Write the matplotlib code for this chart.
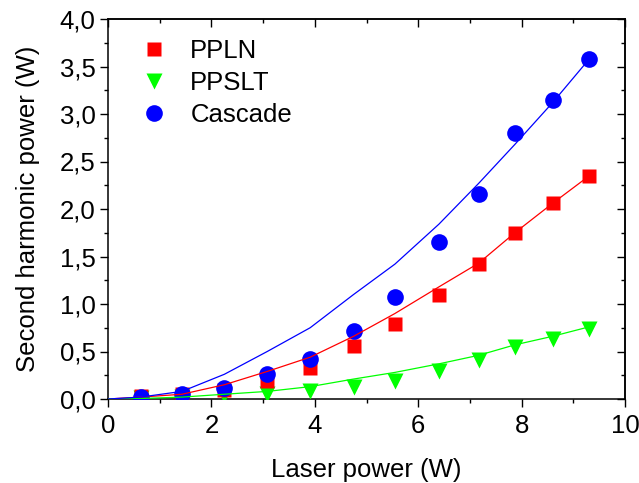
import matplotlib
matplotlib.use("Agg")
import matplotlib.pyplot as plt
from matplotlib.ticker import FuncFormatter, MultipleLocator

plt.rcParams['font.family'] = ['Liberation Sans', 'DejaVu Sans']

# measured data
laser_power = [0.63, 1.43, 2.25, 3.08, 3.91, 4.75, 5.55, 6.40, 7.17, 7.87, 8.60, 9.31]
ppln = [0.03, 0.05, 0.09, 0.19, 0.33, 0.56, 0.79, 1.10, 1.42, 1.75, 2.06, 2.35]
ppslt = [0.01, 0.02, 0.04, 0.05, 0.08, 0.13, 0.19, 0.30, 0.41, 0.55, 0.63, 0.74]
cascade = [0.02, 0.05, 0.12, 0.26, 0.42, 0.72, 1.07, 1.65, 2.16, 2.80, 3.15, 3.58]

# fit curves
fit_x = [0.0, 0.63, 1.43, 2.25, 3.08, 3.91, 4.75, 5.55, 6.40, 7.17, 7.87, 8.60, 9.31]
fit_ppln = [0.0, 0.02, 0.05, 0.15, 0.29, 0.44, 0.66, 0.90, 1.18, 1.43, 1.75, 2.06, 2.35]
fit_ppslt = [0.0, 0.005, 0.02, 0.05, 0.08, 0.13, 0.21, 0.28, 0.37, 0.46, 0.57, 0.66, 0.76]
fit_cascade = [0.0, 0.02, 0.08, 0.26, 0.50, 0.75, 1.10, 1.42, 1.84, 2.27, 2.68, 3.12, 3.58]

labels = ["PPLN", "PPSLT", "Cascade"]
xlabel = "Laser power (W)"
ylabel = "Second harmonic power (W)"

FS = 18.5

fig = plt.figure(figsize=(6.39, 4.83), dpi=100)
ax = fig.add_axes([108/639, 84/483, 517/639, 380/483])

red, green, blue = '#FF0000', '#00FF00', '#0000FF'

ax.plot(fit_x, fit_ppln, color=red, lw=0.9, zorder=6)
ax.plot(fit_x, fit_ppslt, color=green, lw=0.9, zorder=6)
ax.plot(fit_x, fit_cascade, color=blue, lw=0.9, zorder=6)

ax.plot(laser_power, ppln, 's', color=red, ms=10, mec='none', label=labels[0], zorder=4)
ax.plot(laser_power, ppslt, 'v', color=green, ms=12, mec='none', label=labels[1], zorder=3)
ax.plot(laser_power, cascade, 'o', color=blue, ms=12, mec='none', label=labels[2], zorder=5)

ax.set_xlim(0, 10)
ax.set_ylim(0, 4)
ax.xaxis.set_major_locator(MultipleLocator(2))
ax.xaxis.set_minor_locator(MultipleLocator(1))
ax.yaxis.set_major_locator(MultipleLocator(0.5))
ax.yaxis.set_minor_locator(MultipleLocator(0.25))
ax.yaxis.set_major_formatter(FuncFormatter(lambda v, p: f"{v:.1f}".replace('.', ',')))
ax.xaxis.set_major_formatter(FuncFormatter(lambda v, p: f"{v:.0f}"))

ax.tick_params(which='major', direction='out', length=6, width=1, labelsize=FS, pad=3)
ax.tick_params(axis='x', which='major', pad=5)
ax.tick_params(which='minor', direction='out', length=3, width=1)
for s in ax.spines.values():
    s.set_linewidth(1.1)

secx = ax.secondary_xaxis('top')
secx.xaxis.set_major_locator(MultipleLocator(2))
secx.xaxis.set_minor_locator(MultipleLocator(1))
secx.tick_params(which='major', direction='in', length=6, width=1, labeltop=False)
secx.tick_params(which='minor', direction='in', length=3, width=1)
secy = ax.secondary_yaxis('right')
secy.yaxis.set_major_locator(MultipleLocator(0.5))
secy.yaxis.set_minor_locator(MultipleLocator(0.25))
secy.tick_params(which='major', direction='in', length=6, width=1, labelright=False)
secy.tick_params(which='minor', direction='in', length=3, width=1)
for sa in (secx, secy):
    for s in sa.spines.values():
        s.set_linewidth(1.1)

ax.set_xlabel(xlabel, fontsize=FS, labelpad=14)
ax.set_ylabel(ylabel, fontsize=FS, labelpad=14)

ax.legend(loc='upper left', frameon=False, fontsize=FS, handletextpad=0.9,
          labelspacing=0.32, borderaxespad=0.0, handlelength=1.0,
          bbox_to_anchor=(0.045, 0.975))

fig.savefig("out.png", dpi=100)
